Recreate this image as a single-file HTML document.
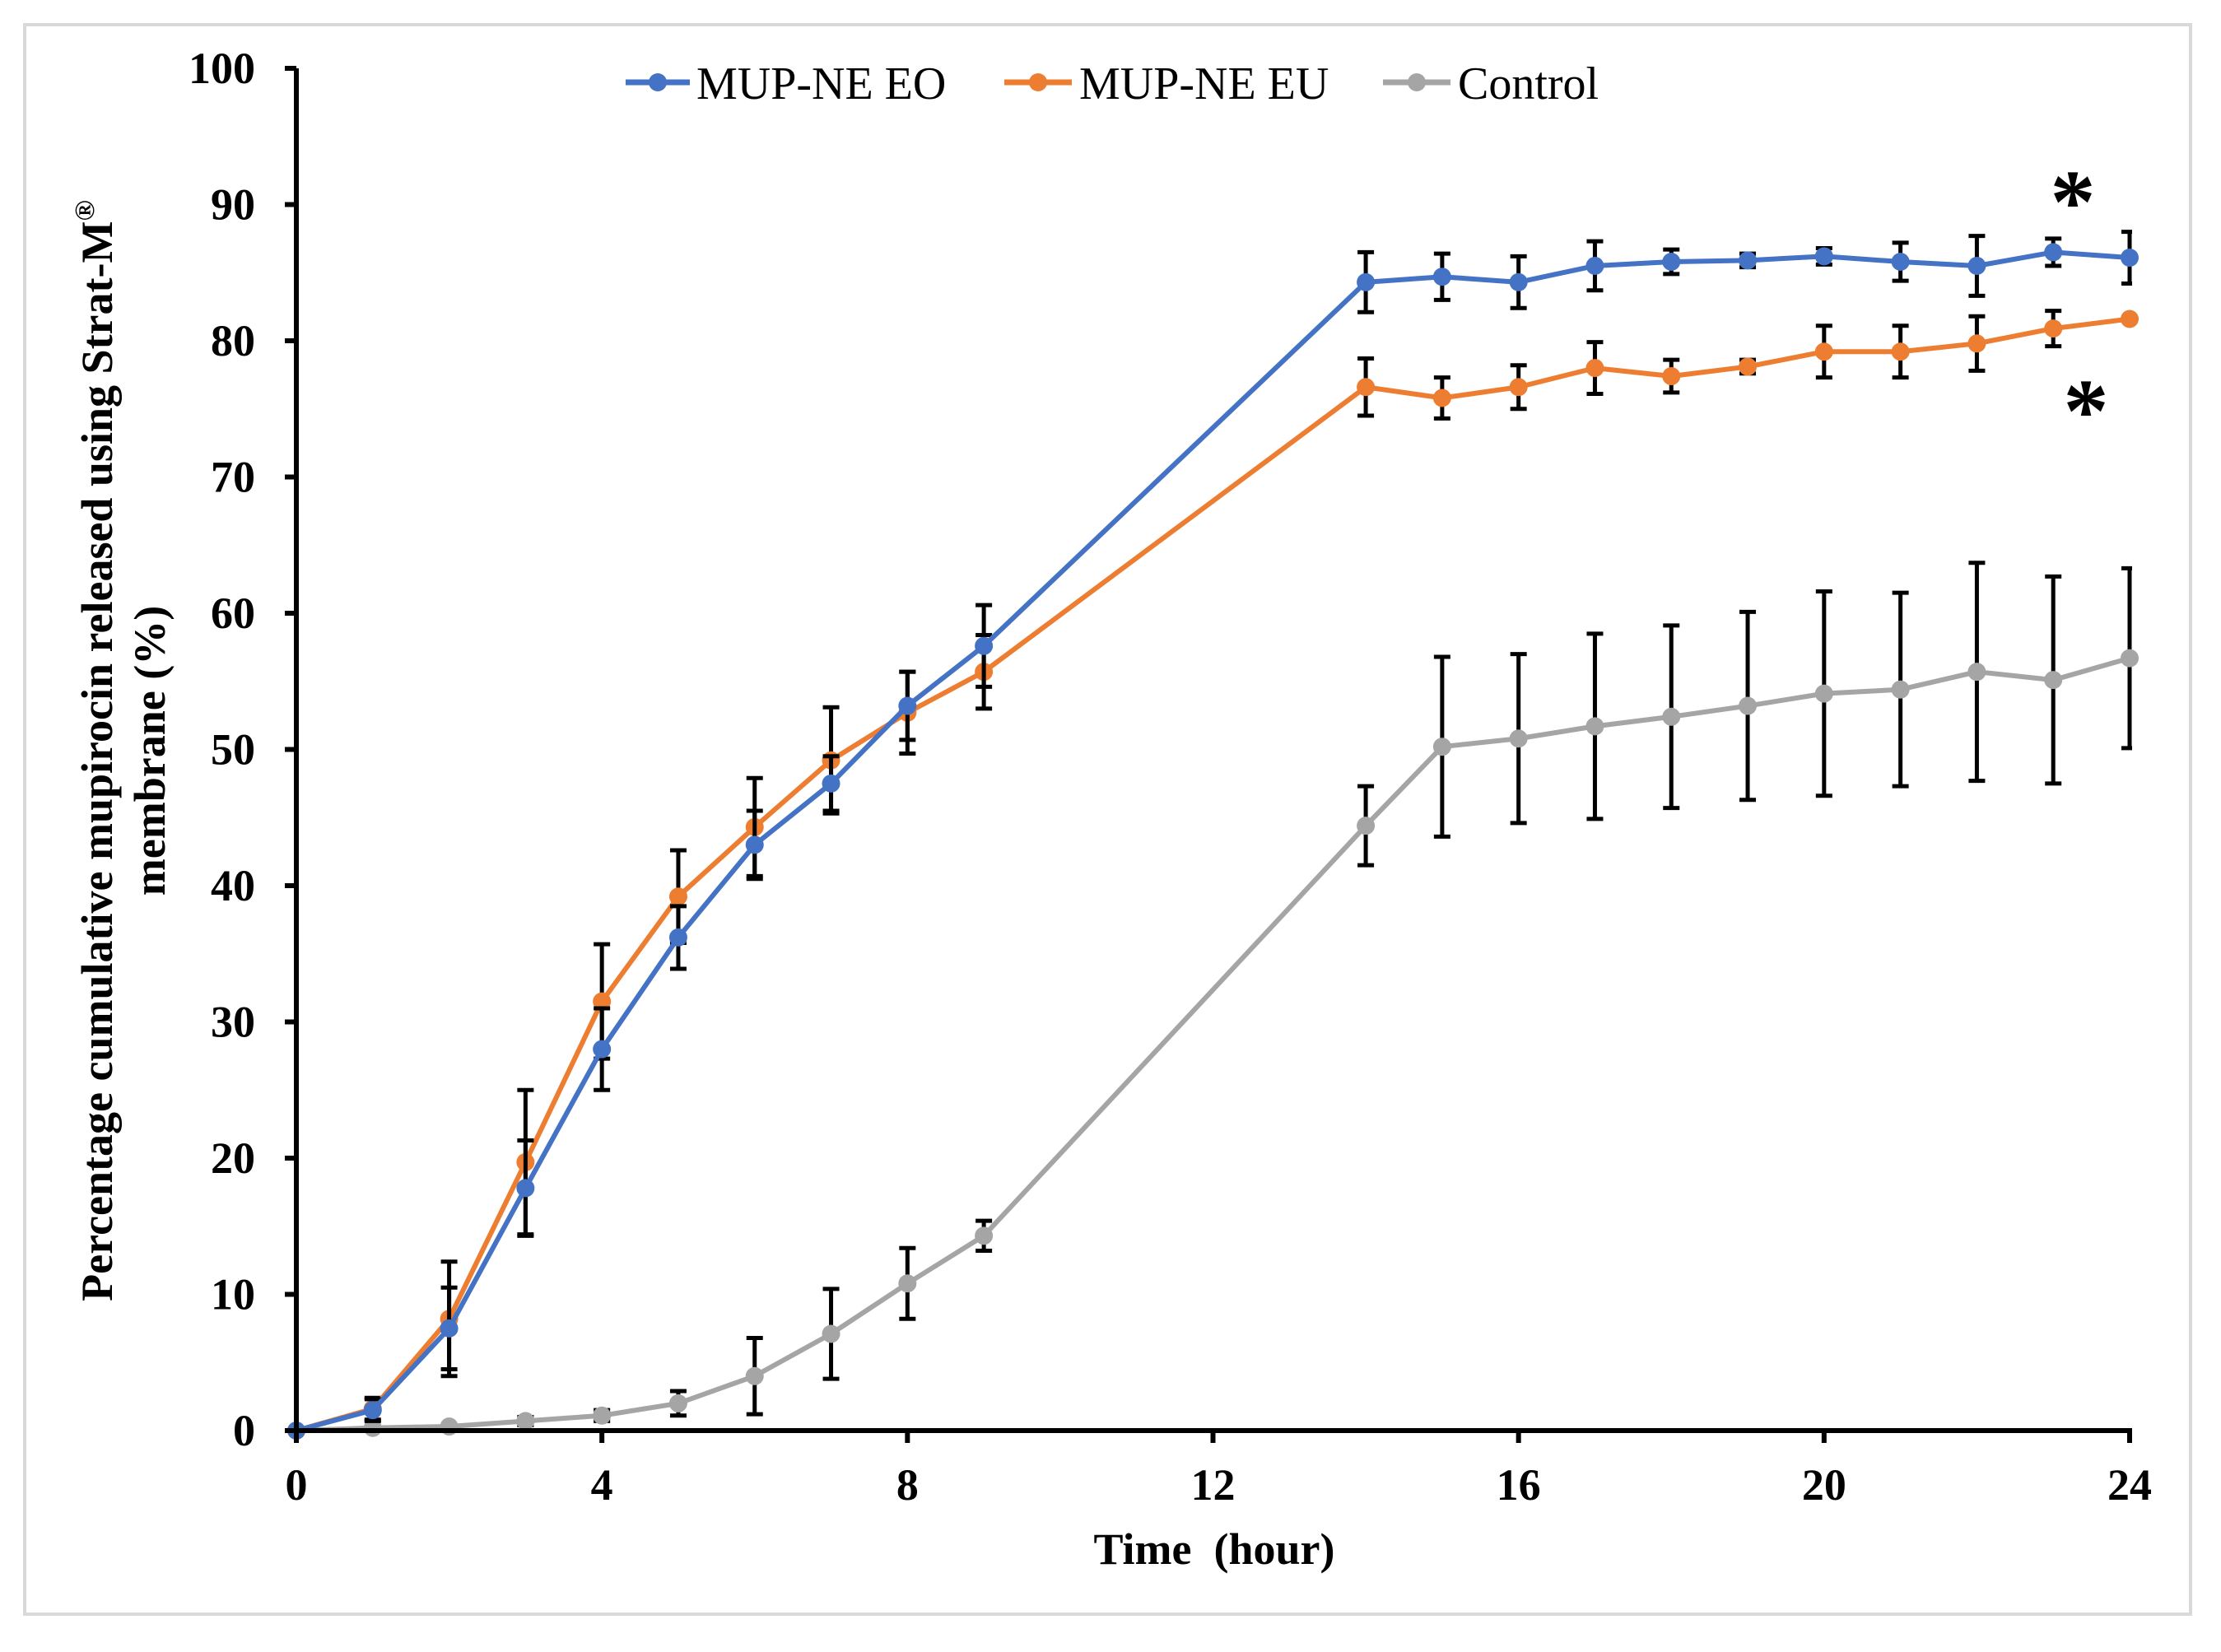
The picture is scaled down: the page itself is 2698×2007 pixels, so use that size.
<!DOCTYPE html>
<html><head><meta charset="utf-8"><style>
html,body{margin:0;padding:0;background:#fff;}
svg text{font-family:"Liberation Serif",serif;}
</style></head><body>
<svg id="chart" xmlns="http://www.w3.org/2000/svg" width="2698" height="2002" viewBox="0 0 2698 2002">
<rect x="30" y="30" width="2631" height="1931" fill="#fff" stroke="#d9d9d9" stroke-width="4"/>
<g id="grid"></g>
<g id="series"></g>
<g id="axes"></g>
<g>
  <g>
    <line x1="760" y1="100" x2="838" y2="100" stroke="#4472C4" stroke-width="7"/>
    <circle cx="799" cy="100" r="11" fill="#4472C4"/>
    <text x="846" y="120" font-size="56">MUP-NE EO</text>
  </g>
  <g>
    <line x1="1220" y1="100" x2="1302" y2="100" stroke="#ED7D31" stroke-width="7"/>
    <circle cx="1261" cy="100" r="11" fill="#ED7D31"/>
    <text x="1311" y="120" font-size="56">MUP-NE EU</text>
  </g>
  <g>
    <line x1="1680" y1="100" x2="1762" y2="100" stroke="#A5A5A5" stroke-width="7"/>
    <circle cx="1721" cy="100" r="11" fill="#A5A5A5"/>
    <text x="1771" y="120" font-size="56">Control</text>
  </g>
</g>
<text x="2518" y="282" font-size="110" font-weight="bold" text-anchor="middle">*</text>
<text x="2534" y="536" font-size="110" font-weight="bold" text-anchor="middle">*</text>
<text x="1475" y="1900" font-size="54" font-weight="bold" text-anchor="middle" xml:space="preserve">Time  (hour)</text>
<g transform="translate(136,912) rotate(-90)">
  <text x="0" y="0" font-size="54" font-weight="bold" text-anchor="middle">Percentage cumulative mupirocin released using Strat-M<tspan font-size="34" dy="-22">®</tspan></text>
  <text x="0" y="64" font-size="54" font-weight="bold" text-anchor="middle">membrane (%)</text>
</g>
</svg>
<script>
const times = [0,1,2,3,4,5,6,7,8,9,14,15,16,17,18,19,20,21,22,23,24];
const eoValues = [0,1.5,7.5,17.8,28,36.2,43,47.5,53.2,57.6,84.3,84.7,84.3,85.5,85.8,85.9,86.2,85.8,85.5,86.5,86.1];
const eoErrors = [0,0.8,3,3.5,3,2.3,2.5,2,2.5,3,2.2,1.7,1.9,1.8,0.9,0.5,0.6,1.4,2.2,1,1.9];
const euValues = [0,1.6,8.2,19.7,31.5,39.2,44.3,49.2,52.7,55.7,76.6,75.8,76.6,78,77.4,78.1,79.2,79.2,79.8,80.9,81.6];
const euErrors = [0,0.8,4.2,5.3,4.2,3.4,3.6,3.9,3,2.7,2.1,1.5,1.6,1.9,1.2,0.5,1.9,1.9,2,1.3,0];
const controlValues = [0,0.2,0.3,0.7,1.1,2,4,7.1,10.8,14.3,44.4,50.2,50.8,51.7,52.4,53.2,54.1,54.4,55.7,55.1,56.7];
const controlErrors = [0,0,0,0.3,0.4,0.9,2.8,3.3,2.6,1.1,2.9,6.6,6.2,6.8,6.7,6.9,7.5,7.1,8,7.6,6.6];
const xTicks = [0,4,8,12,16,20,24];
const yTicks = [0,10,20,30,40,50,60,70,80,90,100];

const X0=360, X1=2587, Y0=1738, Y1=83;
function xs(v){return X0+(v-0)/(24-0)*(X1-X0);}
function ys(v){return Y0-(v-0)/(100-0)*(Y0-Y1);}
const NS='http://www.w3.org/2000/svg';
function mk(tag,attrs,parent){const e=document.createElementNS(NS,tag);for(const k in attrs)e.setAttribute(k,attrs[k]);parent.appendChild(e);return e;}

const axes=document.getElementById('axes');
const series=document.getElementById('series');

const yAxis=mk('line',{x1:X0,y1:Y1,x2:X0,y2:Y0,stroke:'#000','stroke-width':6},axes);


const xAxis=mk('line',{x1:X0-3,y1:Y0,x2:X1+3,y2:Y0,stroke:'#000','stroke-width':6},axes);



yTicks.forEach(t=>{
  const y=ys(t);
  const tk=mk('line',{x1:X0-14,y1:y,x2:X0,y2:y,stroke:'#000','stroke-width':6},axes);
  
  
  const lb=mk('text',{x:310,y:y+18,'font-size':54,'font-weight':'bold','text-anchor':'end'},axes);
  lb.textContent=t;
  
  
});
xTicks.forEach(t=>{
  const x=xs(t);
  const tk=mk('line',{x1:x,y1:Y0,x2:x,y2:Y0+15,stroke:'#000','stroke-width':6},axes);
  
  
  const lb=mk('text',{x:x,y:1822,'font-size':54,'font-weight':'bold','text-anchor':'middle'},axes);
  lb.textContent=t;
  
  
});

const defs=mk('defs',{},document.getElementById('chart'));
const cp=mk('clipPath',{id:'plotclip'},defs);
mk('rect',{x:0,y:0,width:X1+3,height:2002},cp);

function drawSeries(name,vals,errs,color){
  const g=mk('g',{},series);
  
  
  const eb=mk('g',{'clip-path':'url(#plotclip)'},g);
  
  
  vals.forEach((v,i)=>{
    const e=errs[i]; if(!e) return;
    const x=xs(times[i]), yt=ys(v+e), yb=ys(v-e);
    const p=mk('path',{d:`M${x},${yt}V${yb}M${x-10},${yt}H${x+10}M${x-10},${yb}H${x+10}`,stroke:'#000','stroke-width':5,fill:'none'},eb);
    
    
  });
  const pts=vals.map((v,i)=>xs(times[i])+','+ys(v)).join(' ');
  const pl=mk('polyline',{points:pts,fill:'none',stroke:color,'stroke-width':6,'stroke-linejoin':'round'},g);
  
  
  vals.forEach((v,i)=>{
    const c=mk('circle',{cx:xs(times[i]),cy:ys(v),r:11,fill:color},g);
    
    
  });
}
drawSeries('control',controlValues,controlErrors,'#A5A5A5');
drawSeries('eu',euValues,euErrors,'#ED7D31');
drawSeries('eo',eoValues,eoErrors,'#4472C4');
</script>
</body></html>
